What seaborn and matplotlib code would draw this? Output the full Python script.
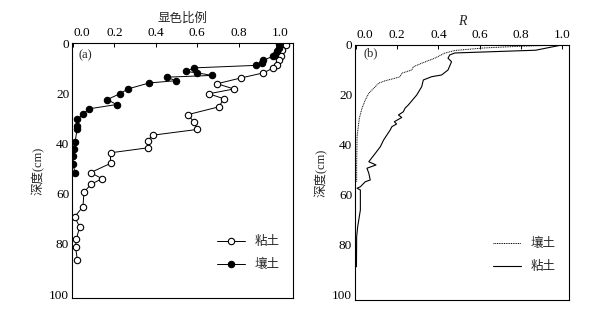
import matplotlib
matplotlib.use("Agg")
import matplotlib.pyplot as plt
import seaborn as sns
import numpy as np
import pandas as pd

# (a) 显色比例 vs depth
clay_a_x = [1.027, 1.008, 1.004, 0.996, 0.984, 0.967, 0.919, 0.811, 0.696, 0.776,
            0.656, 0.728, 0.704, 0.555, 0.584, 0.600, 0.384, 0.360, 0.363, 0.181,
            0.181, 0.085, 0.140, 0.088, 0.053, 0.048, 0.008, 0.032, 0.016, 0.012, 0.021]
clay_a_y = [0.7, 2.7, 5.0, 6.9, 8.6, 9.9, 11.9, 13.9, 16.2, 18.3,
            20.2, 22.2, 25.4, 28.5, 31.5, 34.4, 36.7, 39.0, 41.7, 43.7,
            47.9, 51.6, 54.0, 56.2, 59.3, 65.1, 69.2, 73.2, 78.1, 81.3, 86.3]
loam_a_x = [0.995, 0.996, 0.984, 0.976, 0.964, 0.919, 0.912, 0.884, 0.584, 0.544,
            0.600, 0.672, 0.453, 0.496, 0.368, 0.264, 0.229, 0.165, 0.210, 0.077,
            0.048, 0.021, 0.018, 0.020, 0.010, 0.005, 0.002, 0.000, 0.010]
loam_a_y = [0.5, 2.0, 3.3, 4.6, 5.3, 6.9, 8.0, 8.9, 9.9, 11.3,
            11.9, 12.9, 13.6, 15.0, 15.9, 18.3, 20.1, 22.5, 24.5, 26.2,
            28.3, 30.4, 33.1, 34.1, 39.4, 42.1, 45.0, 48.3, 51.6]

# (b) R vs depth
loam_b_x = [1.00, 0.80, 0.62, 0.48, 0.43, 0.382, 0.319, 0.279, 0.271, 0.222,
            0.214, 0.190, 0.142, 0.110, 0.086, 0.062, 0.045, 0.029, 0.016, 0.010,
            0.005, 0.004, 0.003, 0.003]
loam_b_y = [0.0, 0.5, 1.2, 2.2, 3.3, 5.3, 7.3, 8.7, 10.0, 11.3,
            12.7, 13.3, 14.3, 15.3, 17.3, 19.3, 22.0, 25.3, 29.3, 33.3,
            36.7, 42.0, 48.0, 55.0]
clay_b_x = [1.00, 0.873, 0.48, 0.455, 0.447, 0.464, 0.447, 0.416, 0.367, 0.327,
            0.319, 0.295, 0.254, 0.238, 0.230, 0.206, 0.222, 0.186, 0.197, 0.174,
            0.166, 0.150, 0.134, 0.118, 0.094, 0.062, 0.097, 0.053, 0.062, 0.069,
            0.045, 0.021, 0.005, 0.021, 0.021, 0.008, 0.003, 0.002]
clay_b_y = [0.0, 2.1, 3.2, 4.0, 5.3, 6.7, 10.0, 12.0, 12.7, 14.0,
            16.7, 20.0, 24.0, 25.3, 26.7, 28.0, 29.0, 30.7, 31.6, 32.7,
            34.0, 36.0, 38.0, 40.7, 43.3, 46.7, 48.0, 49.3, 51.3, 54.0,
            54.7, 56.7, 57.3, 58.0, 66.0, 72.7, 76.7, 88.7]

sns.set_style("white")
plt.rcParams['font.family'] = ['Liberation Serif', 'Noto Sans CJK SC', 'DejaVu Sans']
plt.rcParams['axes.unicode_minus'] = False

fig = plt.figure(figsize=(6.08, 3.11), dpi=100)
ax1 = fig.add_axes([0.1184, 0.0418, 0.3635, 0.8199])
ax2 = fig.add_axes([0.5839, 0.0354, 0.3520, 0.8200])

sns.lineplot(x=clay_a_x, y=clay_a_y, sort=False, estimator=None, ax=ax1, color='black',
             lw=0.7, marker='o', ms=4.6, mfc='white', mec='black', mew=0.8, label='粘土')
sns.lineplot(x=loam_a_x, y=loam_a_y, sort=False, estimator=None, ax=ax1, color='black',
             lw=0.7, marker='o', ms=4.6, mfc='black', mec='black', mew=0.8, label='壤土')

sns.lineplot(x=loam_b_x, y=loam_b_y, sort=False, estimator=None, ax=ax2, color='black',
             lw=0.7, ls=(0, (1, 0.8)), label='壤土')
sns.lineplot(x=clay_b_x, y=clay_b_y, sort=False, estimator=None, ax=ax2, color='black',
             lw=0.8, label='粘土')

for ax, xmax, ymax in [(ax1, 1.062, 101.5), (ax2, 1.035, 102)]:
    ax.set_xlim(-0.005, xmax)
    ax.set_ylim(ymax, 0)
    ax.xaxis.tick_top()
    ax.xaxis.set_label_position('top')
    ax.set_xticks([0.0, 0.2, 0.4, 0.6, 0.8, 1.0])
    ax.set_xticklabels(['0.0', '0.2', '0.4', '0.6', '0.8', '1.0'])
    ax.get_xticklabels()[0].set_horizontalalignment('left')
    ax.set_yticks([0, 20, 40, 60, 80, 100])
    ax.tick_params(direction='in', length=3, width=0.7, labelsize=9.5, pad=2,
                   colors='black')
    ax.tick_params(axis='x', pad=3)
    for s in ax.spines.values():
        s.set_color('black')
        s.set_linewidth(0.8)
    ax.set_ylabel('深度(cm)', fontsize=9, labelpad=3)
    ax.legend(frameon=False, loc='lower right', bbox_to_anchor=(0.99, 0.06),
              fontsize=9, handlelength=2.2, labelspacing=0.9, handletextpad=0.8)

ax1.set_xlabel('显色比例', fontsize=9, labelpad=4)
ax2.set_xlabel('R', fontsize=10, style='italic', labelpad=3)
ax1.text(0.06, 0.953, '(a)', transform=ax1.transAxes, ha='center', va='center', fontsize=9)
ax2.text(0.075, 0.967, '(b)', transform=ax2.transAxes, ha='center', va='center', fontsize=9)

fig.savefig('out.png', dpi=100)
